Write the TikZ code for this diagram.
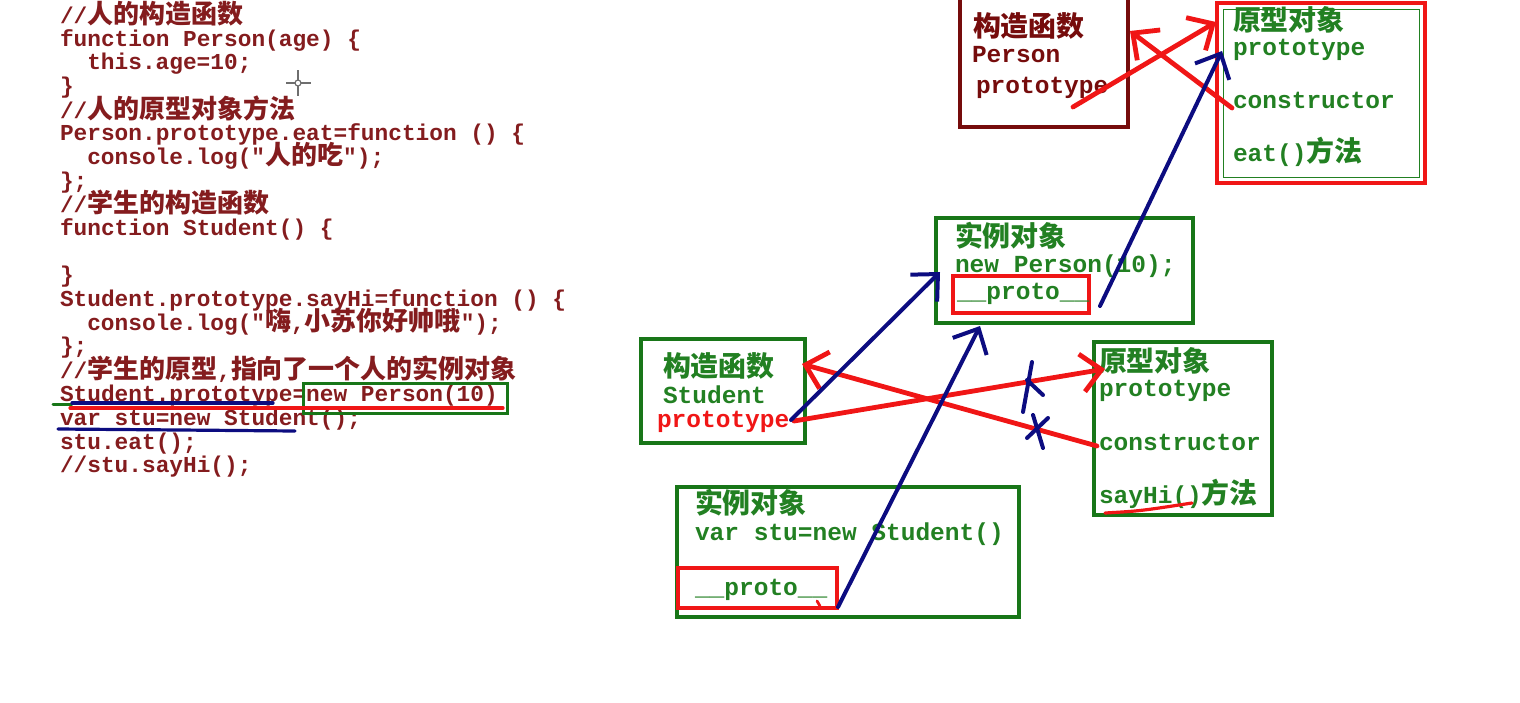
\documentclass[tikz,border=0pt]{standalone}
\usepackage{fontspec}
\setmonofont{Liberation Mono}
\newfontfamily\cjkfont[Scale=1.14]{Noto Sans CJK SC}
\newcommand\zhtext[1]{{\cjkfont #1}}
\usetikzlibrary{arrows.meta}
\definecolor{codered}{RGB}{132,28,30}
\definecolor{txtgreen}{RGB}{34,128,34}
\definecolor{boxgreen}{RGB}{24,118,24}
\definecolor{maroon}{RGB}{118,12,12}
\definecolor{penred}{RGB}{240,22,22}
\definecolor{penblue}{RGB}{12,12,128}
\definecolor{cursorgray}{RGB}{110,110,110}
\tikzset{
  code/.style={anchor=base west, inner sep=0pt, outer sep=0pt, text=codered,
    font=\ttfamily\bfseries\fontsize{11.4}{12}\selectfont},
  dtext/.style={anchor=base west, inner sep=0pt, outer sep=0pt,
    font=\ttfamily\bfseries\fontsize{12.25}{13}\selectfont},
  gtext/.style={dtext, text=txtgreen},
  rtext/.style={dtext, text=penred},
  mtext/.style={dtext, text=maroon},
  boxbase/.style={anchor=north west, inner sep=0pt, outer sep=0pt},
  gbox/.style={boxbase, draw=boxgreen, line width=1.7pt},
  rbox/.style={boxbase, draw=penred, line width=1.6pt},
  mbox/.style={boxbase, draw=maroon, line width=2pt},
  rline/.style={draw=penred, line width=2.4pt, line cap=round},
  bline/.style={draw=penblue, line width=2pt, line cap=round},
  tipped/.style={-{Straight Barb[length=10pt,width=19pt]}},
}
\begin{document}
\begin{tikzpicture}[x=0.5pt,y=-0.5pt]
\useasboundingbox (0,0) rectangle (1520,702);

% ---------------- code listing ----------------
\node[code] (c1)  at (60, 23.5) {//\zhtext{人的构造函数}};
\node[code] (c2)  at (60, 46.2) {function Person(age) \{};
\node[code] (c3)  at (87.3, 69.8) {this.age=10;};
\node[code] (c4)  at (60, 93.5) {\}};
\node[code] (c5)  at (60, 118.1) {//\zhtext{人的原型对象方法}};
\node[code] (c6)  at (60, 140.8) {Person.prototype.eat=function () \{};
\node[code] (c7)  at (87.3, 164.4) {console.log("\zhtext{人的吃}");};
\node[code] (c8)  at (60, 188.1) {\};};
\node[code] (c9)  at (60, 212.7) {//\zhtext{学生的构造函数}};
\node[code] (c10) at (60, 235.4) {function Student() \{};
\node[code] (c12) at (60, 282.7) {\}};
\node[code] (c13) at (60, 306.3) {Student.prototype.sayHi=function () \{};
\node[code] (c14) at (87.3, 330.0) {console.log("\zhtext{嗨},\zhtext{小苏你好帅哦}");};
\node[code] (c15) at (60, 353.6) {\};};
\node[code] (c16) at (60, 378.3) {//\zhtext{学生的原型},\zhtext{指向了一个人的实例对象}};
\node[code] (c17) at (60, 401.9) {Student.prototype=new Person(10)};
\node[code] (c18) at (60, 425.6) {var stu=new Student();};
\node[code] (c19) at (60, 449.2) {stu.eat();};
\node[code] (c20) at (60, 472.9) {//stu.sayHi();};

% code annotations
\node[gbox, line width=1.5pt, minimum width=102pt, minimum height=15pt] (newbox) at (303,383) {};
\draw[draw=boxgreen, line width=1.5pt, line cap=round] (53,404) -- (72,404);
\draw[rline, line width=1.6pt] (70,408) -- (503,408);
\draw[bline, line width=1.6pt] (72,403) -- (273,403);
\draw[bline, line width=1.6pt] (58,429) -- (180,430) -- (295,431);

% mouse cursor
\draw[cursorgray, line width=0.6pt] (286,83) -- (295,83) (301,83) -- (311,83)
  (298,70) -- (298,80) (298,86) -- (298,96);
\draw[cursorgray, line width=0.6pt] (298,83) circle[radius=3];

% ---------------- Person constructor (top left) ----------------
\node[mbox, minimum width=84pt, minimum height=65pt] (boxA) at (960,-3) {};
\node[mtext] (A1) at (973,36) {\zhtext{构造函数}};
\node[mtext] (A2) at (972,62) {Person};
\node[mtext] (A3) at (976,93) {prototype};

% ---------------- Person prototype (top right) ----------------
\node[boxbase, draw=penred, line width=2.2pt, minimum width=104pt, minimum height=90pt] (boxB) at (1217,3) {};
\node[boxbase, draw=txtgreen, line width=0.5pt, minimum width=98pt, minimum height=84pt] (boxBin) at (1223,9) {};
\node[gtext] (B1) at (1233,30) {\zhtext{原型对象}};
\node[gtext] (B2) at (1233,55) {prototype};
\node[gtext] (B3) at (1233,108) {constructor};
\node[gtext] (B4) at (1233,161) {eat()\zhtext{方法}};

% ---------------- Person instance ----------------
\node[gbox, minimum width=128.5pt, minimum height=52.5pt] (boxC) at (936,218) {};
\node[rbox, minimum width=68pt, minimum height=18.5pt] (protoC) at (953,276) {};
\node[gtext] (C1) at (955,246) {\zhtext{实例对象}};
\node[gtext] (C2) at (955,272) {new Person(10);};
\node[gtext] (C3) at (957,299) {\_\_proto\_\_};

% ---------------- Student constructor ----------------
\node[gbox, minimum width=82pt, minimum height=52pt] (boxD) at (641,339) {};
\node[gtext] (D1) at (663,376) {\zhtext{构造函数}};
\node[gtext] (D2) at (663,403) {Student};
\node[rtext] (D3) at (657,427) {prototype};

% ---------------- Student prototype ----------------
\node[gbox, minimum width=89pt, minimum height=86.5pt] (boxE) at (1094,342) {};
\node[gtext] (E1) at (1099,371) {\zhtext{原型对象}};
\node[gtext] (E2) at (1099,396) {prototype};
\node[gtext] (E3) at (1099,450) {constructor};
\node[gtext] (E4) at (1099,503) {sayHi()\zhtext{方法}};
\draw[rline, line width=1.6pt] (1105,513) .. controls (1140,511) .. (1192,503);

% ---------------- Student instance ----------------
\node[gbox, minimum width=171pt, minimum height=65pt] (boxF) at (677,487) {};
\node[rbox, minimum width=79.5pt, minimum height=20pt] (protoF) at (678,568) {};
\node[gtext] (F1) at (695,513) {\zhtext{实例对象}};
\node[gtext] (F2) at (695,540) {var stu=new Student()};
\node[gtext] (F3) at (695,595) {\_\_proto\_\_};
\draw[rline, line width=1.4pt] (817,601) -- (820,606);

% ---------------- connector end points ----------------
\coordinate (pA)  at (1073,107);
\coordinate (tB)  at (1216,22);
\coordinate (cB)  at (1232,108);
\coordinate (tA)  at (1130,31);
\coordinate (pC)  at (1100,306);
\coordinate (tB2) at (1222,51);
\coordinate (pD)  at (791,420);
\coordinate (tC)  at (940,272);
\coordinate (pF)  at (838,607);
\coordinate (tC2) at (980,326);
\coordinate (pD2) at (794,421);
\coordinate (tE)  at (1105,369);
\coordinate (cE)  at (1097,446);
\coordinate (tD)  at (802,364);

% ---------------- connectors ----------------
\draw[rline, tipped] (pA) -- (tB);
\draw[rline, tipped] (cB) -- (tA);
\draw[bline, tipped] (pC) -- (tB2);
\draw[rline, tipped] (pD2) -- (tE);
\draw[rline, tipped] (cE) -- (tD);
\draw[bline, tipped] (pD) -- (tC);
\draw[bline, tipped] (pF) -- (tC2);

% blue crosses on the red arrows
\draw[bline] (1032,362) -- (1023,412);
\draw[bline] (1027,380) -- (1043,395);
\draw[bline] (1033,415) -- (1043,448);
\draw[bline] (1048,418) -- (1027,438);
\end{tikzpicture}
\end{document}
